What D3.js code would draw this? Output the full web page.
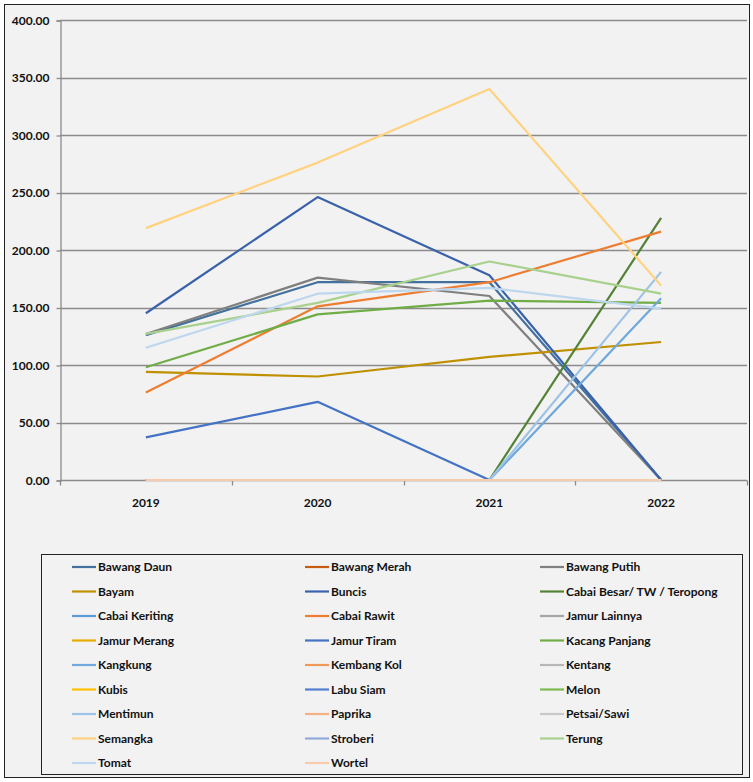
<!DOCTYPE html>
<html>
<head>
<meta charset="utf-8">
<script src="https://cdn.jsdelivr.net/npm/d3@7"></script>
<style>
  body { margin: 0; background: #fff; }
  svg text { font-family: Lato, "Liberation Sans", sans-serif; font-weight: bold; fill: #111; }
</style>
</head>
<body>
<svg id="chart" width="753" height="782"></svg>
<script>
const years = ['2019', '2020', '2021', '2022']
const yTicks = [0, 50, 100, 150, 200, 250, 300, 350, 400]

const seriesNames = [
  'Bawang Daun', 'Bawang Merah', 'Bawang Putih', 'Bayam', 'Buncis', 'Cabai Besar/ TW / Teropong',
  'Cabai Keriting', 'Cabai Rawit', 'Jamur Lainnya', 'Jamur Merang', 'Jamur Tiram', 'Kacang Panjang',
  'Kangkung', 'Kembang Kol', 'Kentang', 'Kubis', 'Labu Siam', 'Melon',
  'Mentimun', 'Paprika', 'Petsai/Sawi', 'Semangka', 'Stroberi', 'Terung',
  'Tomat', 'Wortel'
]

const seriesColors = [
  '#41719c', '#c55a11', '#7f7f7f', '#bf9000', '#3a62ab', '#548235',
  '#5b9bd5', '#ed7d31', '#a5a5a5', '#e6ac00', '#4472c4', '#70ad47',
  '#6ea8dc', '#f1975a', '#b7b7b7', '#ffc000', '#4f7fcf', '#7cba4f',
  '#9dc3e6', '#f4b183', '#c9c9c9', '#ffd280', '#8faadc', '#a9d18e',
  '#bdd7ee', '#f8cbad'
]

// values per year 2019..2022, same order as seriesNames
const seriesValues = [
  [126, 172, 172, 0],
  [0, 0, 0, 0],
  [127, 176, 160, 0],
  [94, 90, 107, 120],
  [145, 246, 178, 0],
  [0, 0, 0, 228],
  [0, 0, 0, 0],
  [76, 151, 172, 216],
  [0, 0, 0, 0],
  [0, 0, 0, 0],
  [37, 68, 0, 0],
  [98, 144, 156, 154],
  [0, 0, 0, 158],
  [0, 0, 0, 0],
  [0, 0, 0, 0],
  [0, 0, 0, 0],
  [0, 0, 0, 0],
  [0, 0, 0, 0],
  [0, 0, 0, 181],
  [0, 0, 0, 0],
  [0, 0, 0, 0],
  [219, 276, 340, 169],
  [0, 0, 0, 0],
  [127, 154, 190, 162],
  [115, 162, 167, 149],
  [0, 0, 0, 0]
]

const svg = d3.select('#chart')

// chart background + border
svg.append('rect')
  .attr('x', 4.5).attr('y', 4.5).attr('width', 745).attr('height', 773)
  .attr('fill', '#f2f2f2').attr('stroke', '#222').attr('stroke-width', 1)

// plot area
const plot = { left: 60, right: 747, top: 20, bottom: 480 }

const x = d3.scalePoint().domain(years).range([plot.left, plot.right]).padding(0.5)
const y = d3.scaleLinear().domain([0, 400]).range([plot.bottom, plot.top])
const step = x.step()

// gridlines
svg.append('g')
  .selectAll('line')
  .data(yTicks.filter(d => d > 0))
  .join('line')
  .attr('x1', plot.left).attr('x2', plot.right)
  .attr('y1', d => Math.round(y(d)) + 0.5).attr('y2', d => Math.round(y(d)) + 0.5)
  .attr('stroke', '#8c8c8c').attr('stroke-width', 1.3)

// y axis
const yAxis = d3.axisLeft(y).tickValues(yTicks).tickFormat(d3.format('.2f')).tickSize(4).tickPadding(7)
const gy = svg.append('g').attr('transform', `translate(${plot.left + 0.5},0.5)`).call(yAxis)
gy.select('.domain').attr('stroke', '#8c8c8c').attr('stroke-width', 1.3)
gy.selectAll('.tick line').attr('stroke', '#8c8c8c').attr('stroke-width', 1.3)
gy.selectAll('.tick text').attr('font-size', 12).attr('fill', '#111')

// x axis
const gx = svg.append('g').attr('transform', `translate(0,${plot.bottom + 0.5})`)
gx.append('line')
  .attr('x1', plot.left).attr('x2', plot.right)
  .attr('stroke', '#8c8c8c').attr('stroke-width', 1.3)
gx.selectAll('.xtick')
  .data(d3.range(years.length + 1))
  .join('line')
  .attr('class', 'xtick')
  .attr('x1', i => Math.round(plot.left + i * step) + 0.5)
  .attr('x2', i => Math.round(plot.left + i * step) + 0.5)
  .attr('y1', 0).attr('y2', 5)
  .attr('stroke', '#8c8c8c').attr('stroke-width', 1.3)
gx.selectAll('.xlabel')
  .data(years)
  .join('text')
  .attr('class', 'xlabel')
  .attr('x', d => x(d))
  .attr('y', 26)
  .attr('text-anchor', 'middle')
  .attr('font-size', 12)
  .text(d => d)

// lines
const line = d3.line().x((d, i) => x(years[i])).y(d => y(d))
svg.append('g')
  .selectAll('path')
  .data(seriesValues)
  .join('path')
  .attr('d', d => line(d))
  .attr('fill', 'none')
  .attr('stroke', (d, i) => seriesColors[i])
  .attr('stroke-width', 2.2)
  .attr('stroke-linejoin', 'round')

// legend
svg.append('rect')
  .attr('x', 41.5).attr('y', 554.5).attr('width', 701).attr('height', 220)
  .attr('fill', 'none').attr('stroke', '#222').attr('stroke-width', 1)

const legendCols = [72, 305, 540]
const legend = svg.append('g')
  .selectAll('g')
  .data(seriesNames)
  .join('g')
  .attr('transform', (d, i) => `translate(${legendCols[i % 3]},${567 + Math.floor(i / 3) * 24.5})`)
legend.append('line')
  .attr('x1', 0).attr('x2', 24)
  .attr('stroke', (d, i) => seriesColors[i])
  .attr('stroke-width', 2.2)
legend.append('text')
  .attr('x', 26)
  .attr('dy', '0.35em')
  .attr('font-size', 12)
  .text(d => d)
</script>
</body>
</html>
